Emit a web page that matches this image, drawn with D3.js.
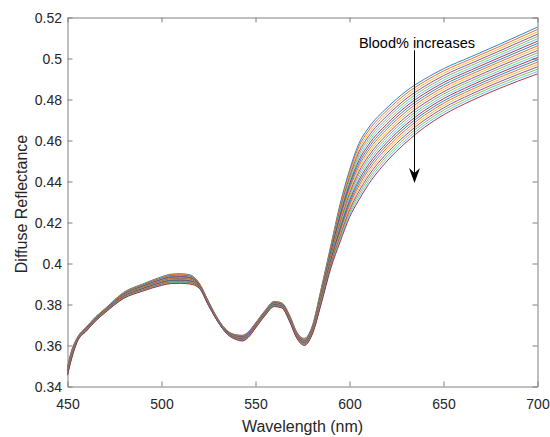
<!DOCTYPE html>
<html><head><meta charset="utf-8">
<script src="https://cdn.jsdelivr.net/npm/d3@7"></script>
<style>
html,body{margin:0;padding:0;background:#fff;}
svg{display:block;font-family:"Liberation Sans",Arial,Helvetica,sans-serif;}
</style>
</head><body>
<svg id="chart" width="550" height="437"></svg>
<script>
// Wavelength samples (nm)
const wavelengths = [450,452,455,460,465,470,480,490,500,505,510,515,520,525,530,535,540,543,546,550,555,560,564,568,572,576,580,585,590,595,600,605,610,620,630,640,650,665,680,700];

// Diffuse reflectance: one row per wavelength, one column per curve (blood % rising left to right)
const reflectance = [
 [0.3495,0.3493,0.3491,0.3489,0.3487,0.3485,0.3483,0.3481,0.3479,0.3477,0.3475,0.3473,0.3471,0.3469,0.3467,0.3465,0.3463,0.3461,0.3459,0.3457,0.3455],
 [0.3570,0.3568,0.3566,0.3564,0.3562,0.3560,0.3558,0.3556,0.3554,0.3552,0.3550,0.3548,0.3546,0.3544,0.3542,0.3540,0.3538,0.3536,0.3534,0.3532,0.3530],
 [0.3635,0.3634,0.3633,0.3632,0.3631,0.3630,0.3629,0.3628,0.3627,0.3626,0.3625,0.3624,0.3623,0.3622,0.3621,0.3620,0.3619,0.3618,0.3617,0.3616,0.3615],
 [0.3690,0.3689,0.3688,0.3687,0.3686,0.3685,0.3684,0.3683,0.3682,0.3681,0.3680,0.3679,0.3678,0.3677,0.3676,0.3675,0.3674,0.3673,0.3672,0.3671,0.3670],
 [0.3740,0.3739,0.3738,0.3737,0.3736,0.3735,0.3734,0.3733,0.3732,0.3731,0.3730,0.3729,0.3728,0.3727,0.3726,0.3725,0.3724,0.3723,0.3722,0.3721,0.3720],
 [0.3780,0.3779,0.3778,0.3777,0.3776,0.3775,0.3774,0.3773,0.3772,0.3771,0.3770,0.3769,0.3768,0.3767,0.3766,0.3765,0.3764,0.3763,0.3762,0.3761,0.3760],
 [0.38600,0.38585,0.38570,0.38555,0.38540,0.38525,0.38510,0.38495,0.38480,0.38465,0.38450,0.38435,0.38420,0.38405,0.38390,0.38375,0.38360,0.38345,0.38330,0.38315,0.38300],
 [0.39000,0.38983,0.38965,0.38948,0.38930,0.38913,0.38895,0.38878,0.38860,0.38843,0.38825,0.38808,0.38790,0.38773,0.38755,0.38738,0.38720,0.38703,0.38685,0.38668,0.38650],
 [0.39350,0.39329,0.39308,0.39287,0.39266,0.39245,0.39224,0.39203,0.39182,0.39161,0.39140,0.39119,0.39098,0.39077,0.39056,0.39035,0.39014,0.38993,0.38972,0.38951,0.38930],
 [0.39480,0.39457,0.39434,0.39411,0.39388,0.39365,0.39342,0.39319,0.39296,0.39273,0.39250,0.39227,0.39204,0.39181,0.39158,0.39135,0.39112,0.39089,0.39066,0.39043,0.39020],
 [0.39500,0.39477,0.39453,0.39430,0.39406,0.39383,0.39359,0.39336,0.39312,0.39289,0.39265,0.39242,0.39218,0.39195,0.39171,0.39148,0.39124,0.39101,0.39077,0.39054,0.39030],
 [0.39450,0.39428,0.39405,0.39383,0.39360,0.39338,0.39315,0.39293,0.39270,0.39248,0.39225,0.39203,0.39180,0.39158,0.39135,0.39113,0.39090,0.39068,0.39045,0.39023,0.39000],
 [0.39050,0.39038,0.39025,0.39013,0.39000,0.38988,0.38975,0.38963,0.38950,0.38938,0.38925,0.38913,0.38900,0.38888,0.38875,0.38863,0.38850,0.38838,0.38825,0.38813,0.38800],
 [0.38150,0.38140,0.38130,0.38120,0.38110,0.38100,0.38090,0.38080,0.38070,0.38060,0.38050,0.38040,0.38030,0.38020,0.38010,0.38000,0.37990,0.37980,0.37970,0.37960,0.37950],
 [0.37300,0.37293,0.37285,0.37278,0.37270,0.37263,0.37255,0.37248,0.37240,0.37233,0.37225,0.37218,0.37210,0.37203,0.37195,0.37188,0.37180,0.37173,0.37165,0.37158,0.37150],
 [0.36720,0.36712,0.36703,0.36695,0.36686,0.36678,0.36669,0.36661,0.36652,0.36644,0.36635,0.36627,0.36618,0.36610,0.36601,0.36593,0.36584,0.36576,0.36567,0.36559,0.36550],
 [0.36520,0.36508,0.36496,0.36484,0.36472,0.36460,0.36448,0.36436,0.36424,0.36412,0.36400,0.36388,0.36376,0.36364,0.36352,0.36340,0.36328,0.36316,0.36304,0.36292,0.36280],
 [0.36500,0.36486,0.36472,0.36458,0.36444,0.36430,0.36416,0.36402,0.36388,0.36374,0.36360,0.36346,0.36332,0.36318,0.36304,0.36290,0.36276,0.36262,0.36248,0.36234,0.36220],
 [0.36650,0.36637,0.36623,0.36610,0.36596,0.36583,0.36569,0.36556,0.36542,0.36529,0.36515,0.36502,0.36488,0.36475,0.36461,0.36448,0.36434,0.36421,0.36407,0.36394,0.36380],
 [0.37100,0.37088,0.37075,0.37063,0.37050,0.37038,0.37025,0.37013,0.37000,0.36988,0.36975,0.36963,0.36950,0.36938,0.36925,0.36913,0.36900,0.36888,0.36875,0.36863,0.36850],
 [0.37700,0.37688,0.37675,0.37663,0.37650,0.37638,0.37625,0.37613,0.37600,0.37588,0.37575,0.37563,0.37550,0.37538,0.37525,0.37513,0.37500,0.37488,0.37475,0.37463,0.37450],
 [0.38150,0.38138,0.38125,0.38113,0.38100,0.38088,0.38075,0.38063,0.38050,0.38038,0.38025,0.38013,0.38000,0.37988,0.37975,0.37963,0.37950,0.37938,0.37925,0.37913,0.37900],
 [0.38080,0.38068,0.38055,0.38043,0.38030,0.38018,0.38005,0.37993,0.37980,0.37968,0.37955,0.37943,0.37930,0.37918,0.37905,0.37893,0.37880,0.37868,0.37855,0.37843,0.37830],
 [0.37500,0.37485,0.37470,0.37455,0.37440,0.37425,0.37410,0.37395,0.37380,0.37365,0.37350,0.37335,0.37320,0.37305,0.37290,0.37275,0.37260,0.37245,0.37230,0.37215,0.37200],
 [0.36650,0.36635,0.36620,0.36605,0.36590,0.36575,0.36560,0.36545,0.36530,0.36515,0.36500,0.36485,0.36470,0.36455,0.36440,0.36425,0.36410,0.36395,0.36380,0.36365,0.36350],
 [0.36350,0.36333,0.36315,0.36298,0.36280,0.36263,0.36245,0.36228,0.36210,0.36193,0.36175,0.36158,0.36140,0.36123,0.36105,0.36088,0.36070,0.36053,0.36035,0.36018,0.36000],
 [0.36900,0.36880,0.36860,0.36840,0.36820,0.36800,0.36780,0.36760,0.36740,0.36720,0.36700,0.36680,0.36660,0.36640,0.36620,0.36600,0.36580,0.36560,0.36540,0.36520,0.36500],
 [0.38800,0.38763,0.38725,0.38688,0.38650,0.38613,0.38575,0.38538,0.38500,0.38463,0.38425,0.38388,0.38350,0.38313,0.38275,0.38238,0.38200,0.38163,0.38125,0.38088,0.38050],
 [0.40850,0.40795,0.40740,0.40685,0.40630,0.40575,0.40520,0.40465,0.40410,0.40355,0.40300,0.40245,0.40190,0.40135,0.40080,0.40025,0.39970,0.39915,0.39860,0.39805,0.39750],
 [0.42900,0.42808,0.42715,0.42623,0.42530,0.42438,0.42345,0.42253,0.42160,0.42068,0.41975,0.41883,0.41790,0.41698,0.41605,0.41513,0.41420,0.41328,0.41235,0.41143,0.41050],
 [0.44550,0.44435,0.44320,0.44205,0.44090,0.43975,0.43860,0.43745,0.43630,0.43515,0.43400,0.43285,0.43170,0.43055,0.42940,0.42825,0.42710,0.42595,0.42480,0.42365,0.42250],
 [0.45850,0.45713,0.45575,0.45438,0.45300,0.45163,0.45025,0.44888,0.44750,0.44613,0.44475,0.44338,0.44200,0.44063,0.43925,0.43788,0.43650,0.43513,0.43375,0.43238,0.43100],
 [0.46600,0.46463,0.46325,0.46188,0.46050,0.45913,0.45775,0.45638,0.45500,0.45363,0.45225,0.45088,0.44950,0.44813,0.44675,0.44538,0.44400,0.44263,0.44125,0.43988,0.43850],
 [0.47600,0.47470,0.47340,0.47210,0.47080,0.46950,0.46820,0.46690,0.46560,0.46430,0.46300,0.46170,0.46040,0.45910,0.45780,0.45650,0.45520,0.45390,0.45260,0.45130,0.45000],
 [0.48400,0.48275,0.48150,0.48025,0.47900,0.47775,0.47650,0.47525,0.47400,0.47275,0.47150,0.47025,0.46900,0.46775,0.46650,0.46525,0.46400,0.46275,0.46150,0.46025,0.45900],
 [0.49000,0.48883,0.48765,0.48648,0.48530,0.48413,0.48295,0.48178,0.48060,0.47943,0.47825,0.47708,0.47590,0.47473,0.47355,0.47238,0.47120,0.47003,0.46885,0.46768,0.46650],
 [0.49500,0.49388,0.49275,0.49163,0.49050,0.48938,0.48825,0.48713,0.48600,0.48488,0.48375,0.48263,0.48150,0.48038,0.47925,0.47813,0.47700,0.47588,0.47475,0.47363,0.47250],
 [0.50100,0.49993,0.49885,0.49778,0.49670,0.49563,0.49455,0.49348,0.49240,0.49133,0.49025,0.48918,0.48810,0.48703,0.48595,0.48488,0.48380,0.48273,0.48165,0.48058,0.47950],
 [0.50700,0.50593,0.50485,0.50378,0.50270,0.50163,0.50055,0.49948,0.49840,0.49733,0.49625,0.49518,0.49410,0.49303,0.49195,0.49088,0.48980,0.48873,0.48765,0.48658,0.48550],
 [0.51530,0.51416,0.51302,0.51188,0.51074,0.50960,0.50846,0.50732,0.50618,0.50504,0.50390,0.50276,0.50162,0.50048,0.49934,0.49820,0.49706,0.49592,0.49478,0.49364,0.49250]
];

const xTicks = [450,500,550,600,650,700];
const yTicks = [0.34,0.36,0.38,0.40,0.42,0.44,0.46,0.48,0.50,0.52];
const yTickLabels = ["0.34","0.36","0.38","0.4","0.42","0.44","0.46","0.48","0.5","0.52"];
const lineColors = ["#0072BD","#D95319","#EDB120","#7E2F8E","#77AC30","#4DBEEE","#A2142F"];
const xLabel = "Wavelength (nm)";
const yLabel = "Diffuse Reflectance";
const noteText = "Blood% increases";
// annotation anchor points in data units: [wavelength, reflectance]
const notePos = [605, 0.5049];
const arrowFrom = [634.3, 0.5040];
const arrowTo = [634.3, 0.4393];

const svg = d3.select("#chart");
const plotL = 67.5, plotR = 537.5, plotT = 17.5, plotB = 386.5;
const x = d3.scaleLinear().domain([450, 700]).range([plotL, plotR]);
const y = d3.scaleLinear().domain([0.34, 0.52]).range([plotB, plotT]);

const axisColor = "#808080", textColor = "#262626";

svg.append("rect").attr("x",0).attr("y",0).attr("width",550).attr("height",437).attr("fill","#fff");

function styleAxis(g){
  g.select(".domain").attr("stroke", axisColor).attr("stroke-width",1);
  g.selectAll(".tick line").attr("stroke", axisColor).attr("stroke-width",1);
  g.selectAll(".tick text").attr("fill", textColor).attr("font-size", 14)
    .attr("font-family", '"Liberation Sans", Arial, sans-serif');
}

// axes (bottom layer, like MATLAB)
const gx = svg.append("g").attr("transform",`translate(0,${plotB})`)
  .call(d3.axisBottom(x).tickValues(xTicks).tickFormat(d3.format("d")).tickSizeInner(-5).tickSizeOuter(0).tickPadding(13));
styleAxis(gx);
const gxTop = svg.append("g").attr("transform",`translate(0,${plotT})`)
  .call(d3.axisTop(x).tickValues(xTicks).tickFormat("").tickSizeInner(-5).tickSizeOuter(0));
styleAxis(gxTop);
const gy = svg.append("g").attr("transform",`translate(${plotL},0)`)
  .call(d3.axisLeft(y).tickValues(yTicks).tickFormat((d,i)=>yTickLabels[i]).tickSizeInner(-5).tickSizeOuter(0).tickPadding(5.5));
styleAxis(gy);
gy.selectAll(".tick text").attr("dy","0.36em");
const gyR = svg.append("g").attr("transform",`translate(${plotR},0)`)
  .call(d3.axisRight(y).tickValues(yTicks).tickFormat("").tickSizeInner(-5).tickSizeOuter(0));
styleAxis(gyR);

// curves
const nCurves = reflectance[0].length;
const line = d3.line().x(d=>x(d[0])).y(d=>y(d[1])).curve(d3.curveMonotoneX);
const gLines = svg.append("g");
for (let k = 0; k < nCurves; k++) {
  const pts = wavelengths.map((w,i)=>[w, reflectance[i][k]]);
  gLines.append("path").attr("d", line(pts)).attr("fill","none")
    .attr("stroke", lineColors[k % lineColors.length]).attr("stroke-width",0.85)
    .attr("stroke-linejoin","round");
}

// labels
svg.append("text").attr("x", (plotL+plotR)/2).attr("y", 432).attr("text-anchor","middle")
  .attr("font-size",16).attr("fill",textColor).text(xLabel);
svg.append("text").attr("transform",`translate(26.5,204) rotate(-90)`)
  .attr("text-anchor","middle").attr("font-size",16).attr("fill",textColor).text(yLabel);

// annotation
svg.append("text").attr("x", x(notePos[0])).attr("y", y(notePos[1]))
  .attr("font-size",14.5).attr("fill","#000").text(noteText);
const ax = Math.round(x(arrowFrom[0])) + 0.5, ay1 = y(arrowFrom[1]), ay2 = y(arrowTo[1]);
svg.append("line").attr("x1",ax).attr("x2",ax).attr("y1",ay1).attr("y2",ay2-8)
  .attr("stroke","#000").attr("stroke-width",1);
svg.append("path")
  .attr("d",`M${ax},${ay2} L${ax-5.5},${ay2-15} L${ax},${ay2-10} L${ax+5.5},${ay2-15} Z`)
  .attr("fill","#000");
</script>
</body></html>
